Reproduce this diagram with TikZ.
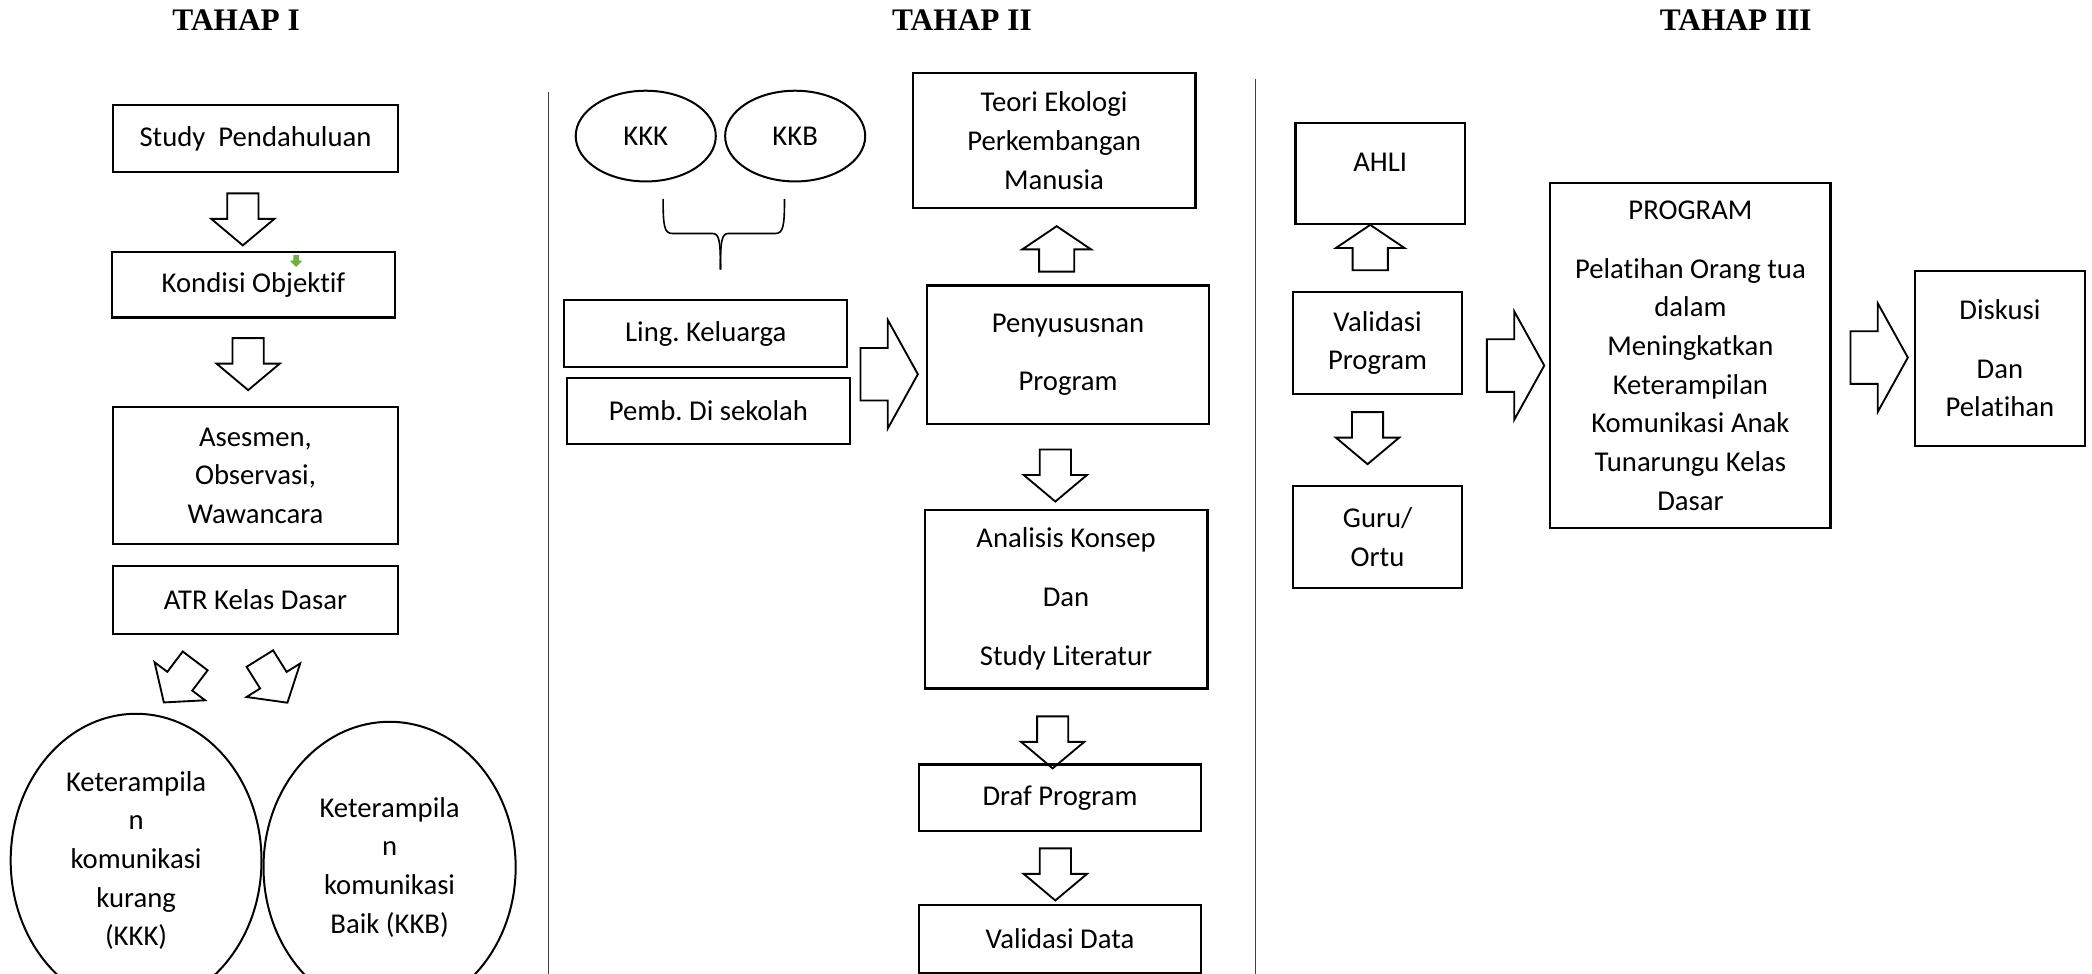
\documentclass[tikz,border=0pt]{standalone}
\usepackage{fontspec}
\setmainfont{Carlito}[Ligatures=NoCommon]
\newfontfamily\titlefont{Liberation Serif}
\usetikzlibrary{shapes.geometric,shapes.arrows,calc,positioning}
\definecolor{markgreen}{RGB}{112,173,71}
\frenchspacing
\tikzset{
  box/.style={draw, line width=1.6pt, align=center, inner sep=2pt},
  oval/.style={draw, ellipse, line width=1.5pt, align=center, inner sep=0pt},
  barrow/.style={single arrow, draw, line width=1.4pt, inner xsep=0pt, inner ysep=11pt,
    single arrow head extend=12pt, single arrow tip angle=100, minimum height=39pt},
  varrow/.style={barrow, shape border rotate=270, inner xsep=11pt, inner ysep=0pt},
  uarrow/.style={barrow, shape border rotate=90, minimum height=34pt, inner xsep=12.5pt,
    inner ysep=0pt, single arrow head extend=12.5pt, single arrow tip angle=112},
  bigarrow/.style={barrow, inner ysep=19pt, single arrow head extend=21pt,
    single arrow tip angle=122, minimum height=43pt},
  tahap/.style={font=\titlefont\bfseries\fontsize{23.5}{28}\selectfont},
  sepline/.style={line width=1pt, black!75},
  braceline/.style={line width=1.2pt}
}
\begin{document}
\begin{tikzpicture}[x=1pt,y=-1pt,font=\fontsize{21.5}{29}\selectfont]
\useasboundingbox (0,0) rectangle (1568,730);
\clip (0,0) rectangle (1568,730);
% titles
\node[tahap] (t1) at (177,15) {TAHAP I};
\node[tahap] (t2) at (721,15) {TAHAP II};
\node[tahap] (t3) at (1301,15) {TAHAP III};
\draw[sepline] (411,69) -- (411,730);
\draw[sepline] (941,59) -- (941,730);

% tahap I
\node[box, minimum width=213pt, minimum height=50pt] (study) at (191.5,104) {Study\ \ Pendahuluan};
\node[box, minimum width=212pt, minimum height=49pt] (kondisi) at (190,213.5) {Kondisi Objektif};
\node[box, minimum width=213pt, minimum height=103pt] (asesmen) at (191.5,356.5) {Asesmen,\\Observasi,\\Wawancara};
\node[box, minimum width=213pt, minimum height=51pt] (atr) at (191.5,449.5) {ATR Kelas Dasar};
\node[oval, minimum width=188pt, minimum height=220pt] (kkkbig) at (102,645) {Keterampila\\n\\komunikasi\\kurang\\(KKK)};
\node[oval, minimum width=189pt, minimum height=218pt] (kkbbig) at (292,650) {Keterampila\\n\\komunikasi\\Baik (KKB)};
\node[single arrow, fill=markgreen, shape border rotate=270, inner xsep=2pt, inner ysep=0pt,
  single arrow head extend=2.5pt, minimum height=9pt] (mark) at (222,194.5) {};
\node[varrow] (d1) at (182,159.5) {};
\node[varrow] (d2) at (186,268) {};
\node[barrow, rotate=-127] (d3) at (137.5,507) {};
\node[barrow, rotate=-58] (d4) at (202.5,506) {};

% tahap II
\node[oval, minimum width=105pt, minimum height=68pt] (kkk) at (484,102) {KKK};
\node[oval, minimum width=105pt, minimum height=68pt] (kkb) at (596,102) {KKB};
\coordinate (brtip) at (540,202);
\draw[braceline] (497,149) .. controls (497,170) and (498,175) .. (504,175) -- (534,175)
  .. controls (539,175) and (540,180) .. (brtip);
\draw[braceline] (588,149) .. controls (588,170) and (587,175) .. (581,175) -- (546,175)
  .. controls (541,175) and (540,180) .. (brtip);
\node[box, minimum width=212pt, minimum height=50pt] (ling) at (529,250) {Ling. Keluarga};
\node[box, minimum width=212pt, minimum height=50pt] (pemb) at (531,308) {Pemb. Di sekolah};
\node[box, minimum width=212pt, minimum height=101pt] (teori) at (790,105.5) {Teori Ekologi\\Perkembangan\\Manusia};
\node[box, minimum width=211pt, minimum height=104pt] (susun) at (800.5,266) {Penyususnan\\[14pt]Program};
\node[box, minimum width=212pt, minimum height=134pt] (analisis) at (799,449) {Analisis Konsep\\[15pt]Dan\\[15pt]Study Literatur};
\node[box, minimum width=211pt, minimum height=50pt] (draf) at (794.5,598) {Draf Program};
\node[box, minimum width=211pt, minimum height=51pt] (valdata) at (794.5,703.5) {Validasi Data};
\node[bigarrow] (r1) at (661,280.5) {};
\node[uarrow] (u1) at (792,191) {};
\node[varrow] (d5) at (791,351.5) {};
\node[varrow] (d6) at (789,551.5) {};
\node[varrow] (d7) at (791,650.5) {};

% tahap III
\node[box, minimum width=127pt, minimum height=76pt, text depth=16pt] (ahli) at (1034.5,130) {AHLI};
\node[box, minimum width=127pt, minimum height=76pt] (valprog) at (1032.5,257) {Validasi\\Program};
\node[box, minimum width=127pt, minimum height=77pt] (guru) at (1032.5,402.5) {Guru/\\Ortu};
\node[box, minimum width=210pt, minimum height=259pt] (program) at (1267,266.5) {PROGRAM\\[15pt]Pelatihan Orang tua\\dalam\\Meningkatkan\\Keterampilan\\Komunikasi Anak\\Tunarungu Kelas\\Dasar};
\node[box, minimum width=128pt, minimum height=131pt] (diskusi) at (1499,268.5) {Diskusi\\[15pt]Dan\\Pelatihan};
\node[uarrow] (u2) at (1027,190) {};
\node[varrow] (d8) at (1025,323.5) {};
\node[bigarrow] (r2) at (1130.5,274) {};
\node[bigarrow] (r3) at (1403,268) {};
\end{tikzpicture}
\end{document}
